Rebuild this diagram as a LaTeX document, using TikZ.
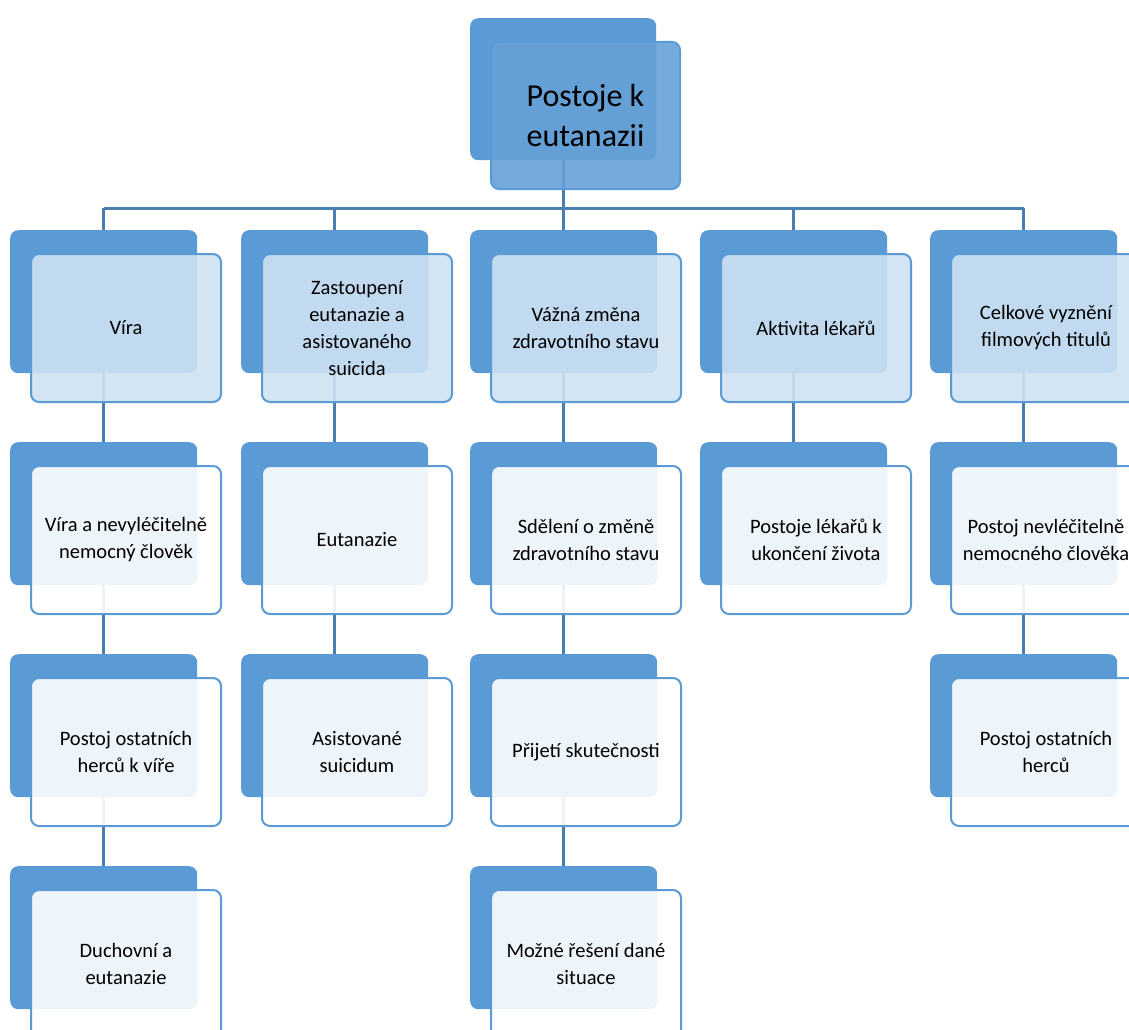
\documentclass[tikz,border=0pt]{standalone}
\usepackage{fontspec}
\setmainfont{Carlito}
\usetikzlibrary{backgrounds}
\definecolor{backblue}{HTML}{5B9BD5}
\definecolor{rootfront}{HTML}{66A0D7}
\definecolor{lvlfront}{HTML}{CEE1F2}
\definecolor{linkblue}{HTML}{4A7EAE}
\tikzset{
  backbox/.style={draw=none, fill=backblue, rounded corners=8pt, minimum width=187pt, minimum height=143pt, anchor=north west, inner sep=0pt},
  frontbox/.style={draw=backblue, line width=2pt, fill opacity=0.9, text opacity=1, rounded corners=8pt, minimum width=190pt, minimum height=148pt, anchor=north west, align=center, inner sep=0pt, font=\fontsize{20.5}{27}\selectfont},
  lvlone/.style={frontbox, fill=lvlfront},
  lvlrest/.style={frontbox, fill=white},
  rootback/.style={backbox, minimum width=186pt, minimum height=142pt},
  rootfrontbox/.style={frontbox, fill=rootfront, minimum width=189pt, minimum height=147pt, font=\fontsize{32}{40}\selectfont},
  link/.style={draw=linkblue, line width=3pt},
}
\begin{document}
\begin{tikzpicture}[x=1pt,y=-1pt]
\useasboundingbox (0,0) rectangle (1129,1030);
\clip (0,0) rectangle (1129,1030);
% root
\node[rootback] (rb) at (470,18) {};
\node[rootfrontbox] (rf) at (490,41) {Postoje k\\eutanazii};
% column 1
\node[backbox] (b11) at (10,230) {};
\node[lvlone] (f11) at (30,253) {Víra};
\node[backbox] (b12) at (10,442) {};
\node[lvlrest] (f12) at (30,465) {Víra a nevyléčitelně\\nemocný člověk};
\node[backbox] (b13) at (10,654) {};
\node[lvlrest] (f13) at (30,677) {Postoj ostatních\\herců k víře};
\node[backbox] (b14) at (10,866) {};
\node[lvlrest] (f14) at (30,889) {Duchovní a\\eutanazie};
% column 2
\node[backbox] (b21) at (241,230) {};
\node[lvlone] (f21) at (261,253) {Zastoupení\\eutanazie a\\asistovaného\\suicida};
\node[backbox] (b22) at (241,442) {};
\node[lvlrest] (f22) at (261,465) {Eutanazie};
\node[backbox] (b23) at (241,654) {};
\node[lvlrest] (f23) at (261,677) {Asistované\\suicidum};
% column 3
\node[backbox] (b31) at (470,230) {};
\node[lvlone] (f31) at (490,253) {Vážná změna\\zdravotního stavu};
\node[backbox] (b32) at (470,442) {};
\node[lvlrest] (f32) at (490,465) {Sdělení o změně\\zdravotního stavu};
\node[backbox] (b33) at (470,654) {};
\node[lvlrest] (f33) at (490,677) {Přijetí skutečnosti};
\node[backbox] (b34) at (470,866) {};
\node[lvlrest] (f34) at (490,889) {Možné řešení dané\\situace};
% column 4
\node[backbox] (b41) at (700,230) {};
\node[lvlone] (f41) at (720,253) {Aktivita lékařů};
\node[backbox] (b42) at (700,442) {};
\node[lvlrest] (f42) at (720,465) {Postoje lékařů k\\ukončení života};
% column 5
\node[backbox] (b51) at (930,230) {};
\node[lvlone] (f51) at (950,253) {Celkové vyznění\\filmových titulů};
\node[backbox] (b52) at (930,442) {};
\node[lvlrest] (f52) at (950,465) {Postoj nevléčitelně\\nemocného člověka};
\node[backbox] (b53) at (930,654) {};
\node[lvlrest] (f53) at (950,677) {Postoj ostatních\\herců};
% connectors
\begin{pgfonlayer}{background}
\coordinate (busL) at (b11.north |- 0,208);
\coordinate (busR) at (b51.north |- 0,208);
\draw[link] (busL) -- (busR);
\draw[link] (rb.south) -- (rb.south |- busL);
\draw[link] (b11.north) -- (b11.north |- busL);
\draw[link] (b21.north) -- (b21.north |- busL);
\draw[link] (b31.north) -- (b31.north |- busL);
\draw[link] (b41.north) -- (b41.north |- busL);
\draw[link] (b51.north) -- (b51.north |- busL);
\draw[link] (b11.south) -- (b12.north);
\draw[link] (b12.south) -- (b13.north);
\draw[link] (b13.south) -- (b14.north);
\draw[link] (b21.south) -- (b22.north);
\draw[link] (b22.south) -- (b23.north);
\draw[link] (b31.south) -- (b32.north);
\draw[link] (b32.south) -- (b33.north);
\draw[link] (b33.south) -- (b34.north);
\draw[link] (b41.south) -- (b42.north);
\draw[link] (b51.south) -- (b52.north);
\draw[link] (b52.south) -- (b53.north);
\end{pgfonlayer}
\end{tikzpicture}
\end{document}
